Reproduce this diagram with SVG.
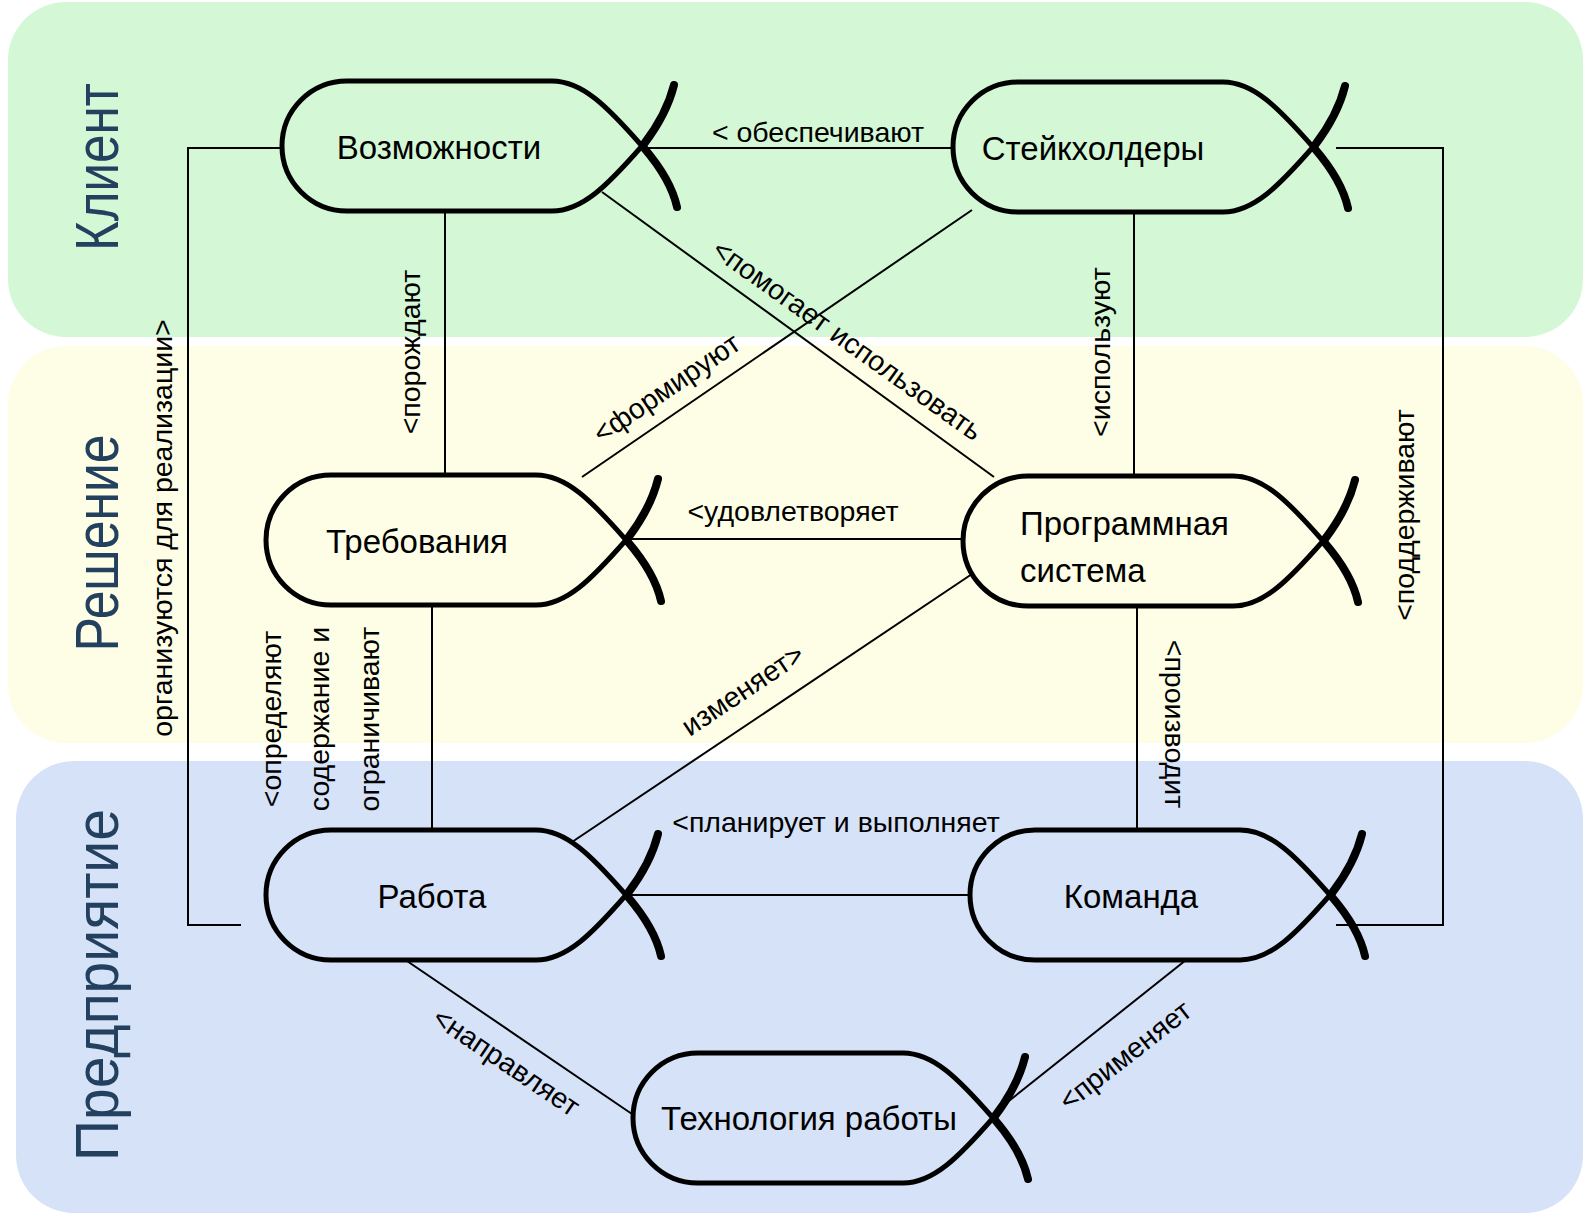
<svg xmlns="http://www.w3.org/2000/svg" xmlns:xlink="http://www.w3.org/1999/xlink" width="1585" height="1218" viewBox="0 0 1585 1218">
<style>
.band-label{font-family:"Liberation Sans",Arial,sans-serif;font-size:61px;fill:#23405F;text-anchor:middle}
.node-text{font-family:"Liberation Sans",Arial,sans-serif;font-size:33px;fill:#000;text-anchor:middle}
.lbl{font-family:"Liberation Sans",Arial,sans-serif;font-size:28.5px;fill:#000;text-anchor:middle}
.conn{fill:none;stroke:#000;stroke-width:2}
.body{fill:none;stroke:#000;stroke-width:5;stroke-linejoin:round}
.tail{fill:none;stroke:#000;stroke-width:8;stroke-linecap:round}
</style>
<defs>
<g id="fish">
<path class="body" d="M 392,2 C 388,20 378,42 360,65 C 325,105 300,130 270,130 L 65,130 A 65,65 0 0 1 65,0 L 270,0 C 300,0 325,25 360,65 C 380,88 392,110 395,128"/>
<path class="tail" d="M 362,63 C 378,42 388,20 392,4"/>
<path class="tail" d="M 362,67 C 380,88 391,108 395,126"/>
</g>
</defs>

<g id="bands">
<rect x="8" y="2" width="1575" height="335" rx="58" fill="#D4F7D6"/>
<rect x="8" y="346" width="1575" height="397" rx="58" fill="#FDFEE5"/>
<rect x="16" y="761" width="1567" height="452" rx="58" fill="#D6E2F8"/>
<text class="band-label" transform="translate(118,167) rotate(-90)" textLength="168" lengthAdjust="spacingAndGlyphs">Клиент</text>
<text class="band-label" transform="translate(118,543) rotate(-90)" textLength="217" lengthAdjust="spacingAndGlyphs">Решение</text>
<text class="band-label" transform="translate(118,985) rotate(-90)" textLength="352" lengthAdjust="spacingAndGlyphs">Предприятие</text>
</g>

<g id="connectors">
<line class="conn" x1="640" y1="148" x2="953" y2="148"/>
<line class="conn" x1="627" y1="539" x2="963" y2="539"/>
<line class="conn" x1="629" y1="895" x2="970" y2="895"/>
<line class="conn" x1="445" y1="211" x2="445" y2="475"/>
<line class="conn" x1="432" y1="605" x2="432" y2="830"/>
<line class="conn" x1="1134" y1="211" x2="1134" y2="476"/>
<line class="conn" x1="1137" y1="606" x2="1137" y2="830"/>
<line class="conn" x1="972" y1="210" x2="582" y2="477"/>
<line class="conn" x1="602" y1="192" x2="994" y2="477"/>
<line class="conn" x1="972" y1="574" x2="572" y2="842"/>
<line class="conn" x1="407" y1="961" x2="632" y2="1114"/>
<line class="conn" x1="1186" y1="960" x2="995" y2="1112"/>
<polyline class="conn" points="282,148 188,148 188,925 241,925"/>
<polyline class="conn" points="1336,148 1443,148 1443,925 1336,925"/>
<text class="lbl" x="818" y="142">&lt; обеспечивают</text>
<text class="lbl" transform="translate(420,352) rotate(-90)">&lt;порождают</text>
<text class="lbl" transform="translate(1110,352) rotate(-90)">&lt;используют</text>
<text class="lbl" transform="translate(1414,515) rotate(-90)">&lt;поддерживают</text>
<text class="lbl" transform="translate(1165,724) rotate(90)">&lt;производит</text>
<text class="lbl" transform="translate(172,528) rotate(-90)">организуются для реализации&gt;</text>
<text class="lbl" transform="translate(281,719) rotate(-90)">&lt;определяют</text>
<text class="lbl" transform="translate(329,719) rotate(-90)">содержание и</text>
<text class="lbl" transform="translate(379,719) rotate(-90)">ограничивают</text>
<text class="lbl" x="793" y="521">&lt;удовлетворяет</text>
<text class="lbl" x="836" y="832">&lt;планирует и выполняет</text>
<text class="lbl" transform="translate(672,396) rotate(-34.3)">&lt;формируют</text>
<text class="lbl" transform="translate(842,348) rotate(35.5)">&lt;помогает использовать</text>
<text class="lbl" transform="translate(748,698) rotate(-33.7)">изменяет&gt;</text>
<text class="lbl" transform="translate(501,1070) rotate(34)">&lt;направляет</text>
<text class="lbl" transform="translate(1131,1063) rotate(-38)">&lt;применяет</text>
</g>

<g id="node-vozmozhnosti">
<use xlink:href="#fish" transform="translate(282,81)"/>
<text class="node-text" x="439" y="159">Возможности</text>
</g>
<g id="node-steikholdery">
<use xlink:href="#fish" transform="translate(953,82)"/>
<text class="node-text" x="1093" y="160">Стейкхолдеры</text>
</g>
<g id="node-trebovaniya">
<use xlink:href="#fish" transform="translate(266,475)"/>
<text class="node-text" x="417" y="553">Требования</text>
</g>
<g id="node-programmnaya-sistema">
<use xlink:href="#fish" transform="translate(963,476)"/>
<text class="node-text" x="1020" y="535" style="text-anchor:start">Программная</text>
<text class="node-text" x="1020" y="582" style="text-anchor:start">система</text>
</g>
<g id="node-rabota">
<use xlink:href="#fish" transform="translate(266,830)"/>
<text class="node-text" x="432" y="908">Работа</text>
</g>
<g id="node-komanda">
<use xlink:href="#fish" transform="translate(970,830)"/>
<text class="node-text" x="1131" y="908">Команда</text>
</g>
<g id="node-tehnologiya">
<use xlink:href="#fish" transform="translate(633,1053)"/>
<text class="node-text" x="809" y="1130">Технология работы</text>
</g>
</svg>
